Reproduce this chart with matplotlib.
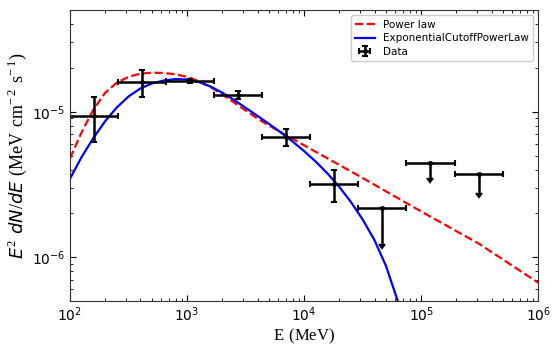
import numpy as np
import matplotlib
matplotlib.use("Agg")
import matplotlib.pyplot as plt

plt.rcParams['mathtext.fontset'] = 'custom'
plt.rcParams['mathtext.rm'] = 'Liberation Serif'
plt.rcParams['mathtext.it'] = 'DejaVu Sans:italic'

# flux points (MeV, MeV cm-2 s-1)
e_ref = [160, 412, 1060, 2730, 7040, 18100, 46700, 120000, 310000]
e_lo = [100, 257, 660, 1700, 4390, 11300, 29100, 74900, 193000]
e_hi = [257, 660, 1700, 4390, 11300, 29100, 74900, 193000, 500000]
flux = [9.4e-6, 1.61e-5, 1.64e-5, 1.31e-5, 6.7e-6, 3.2e-6, 2.18e-6, 4.44e-6, 3.73e-6]
flux_err_lo = [3.2e-6, 3.5e-6, 0.5e-6, 0.85e-6, 0.9e-6, 0.8e-6, 0.95e-6, 0.95e-6, 0.95e-6]
flux_err_hi = [3.3e-6, 3.4e-6, 0.5e-6, 0.85e-6, 0.9e-6, 0.8e-6, 0.0, 0.0, 0.0]
is_ul = [False, False, False, False, False, False, True, True, True]

# model curves, in log10 units
pl_log_e = [2.0, 2.1, 2.2, 2.3, 2.4, 2.5, 2.6, 2.7, 2.8, 2.9, 3.0, 3.1, 3.2, 3.3,
            3.4, 3.5, 3.6, 3.7, 3.8, 3.9, 4.0, 4.5, 5.0, 5.5, 6.0]
pl_log_f = [-5.32, -5.14, -4.985, -4.87, -4.80, -4.76, -4.738, -4.731, -4.733,
            -4.742, -4.76, -4.788, -4.83, -4.88, -4.935, -4.99, -5.045, -5.095,
            -5.14, -5.185, -5.23, -5.455, -5.685, -5.91, -6.175]
ecpl_log_e = [2.0, 2.1, 2.2, 2.3, 2.4, 2.5, 2.6, 2.7, 2.8, 2.9, 3.0, 3.1, 3.2,
              3.3, 3.4, 3.5, 3.6, 3.7, 3.8, 3.9, 4.0, 4.1, 4.2, 4.3, 4.4, 4.5,
              4.6, 4.7, 4.8]
ecpl_log_f = [-5.46, -5.31, -5.18, -5.065, -4.97, -4.895, -4.84, -4.805, -4.785,
              -4.775, -4.778, -4.795, -4.826, -4.868, -4.918, -4.972, -5.027,
              -5.083, -5.141, -5.203, -5.27, -5.343, -5.424, -5.515, -5.62,
              -5.74, -5.88, -6.06, -6.30]

fig = plt.figure(figsize=(5.6, 3.5), dpi=100)
ax = fig.add_axes([0.125, 0.14, 0.836, 0.831])

ax.plot(10 ** np.array(pl_log_e), 10 ** np.array(pl_log_f), color='red', ls='--',
        lw=1.6, label='Power law')
ax.plot(10 ** np.array(ecpl_log_e), 10 ** np.array(ecpl_log_f), color='blue',
        lw=1.6, label='ExponentialCutoffPowerLaw')

e_ref = np.array(e_ref)
xerr = [e_ref - np.array(e_lo), np.array(e_hi) - e_ref]
yerr = [flux_err_lo, flux_err_hi]
ax.errorbar(e_ref, flux, xerr=xerr, yerr=yerr, uplims=is_ul, fmt='o', ms=2.5,
            color='black', elinewidth=1.8, capsize=2, capthick=1.5, label='Data')

ax.set_xscale('log')
ax.set_yscale('log')
ax.set_xlim(1e2, 1e6)
ax.set_ylim(5e-7, 5e-5)
ax.set_xlabel(r'$\mathrm{E\ (MeV)}$', fontsize=12, labelpad=2)
ax.set_ylabel(r'$E^2\ dN/dE\ \mathrm{(MeV\ cm^{-\,2}\ s^{-\,1})}$', fontsize=13,
              labelpad=2)
ax.tick_params(which='both', direction='in', top=True, right=True, labelsize=10)
ax.tick_params(which='major', length=4)
ax.tick_params(which='minor', length=2)
for s in ax.spines.values():
    s.set_color('#333333')

ax.legend(loc='upper right', fontsize=7.5, framealpha=1, edgecolor='#cccccc',
          labelspacing=0.35, handlelength=1.9)

fig.savefig('out.png', dpi=100)
